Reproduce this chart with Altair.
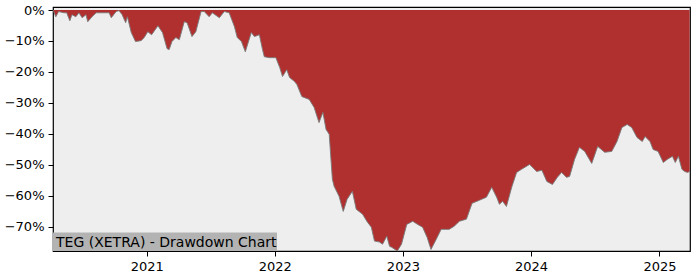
import altair as alt
import pandas as pd

dates = [
    "2020-04-09", "2020-04-11", "2020-04-17", "2020-04-25", "2020-05-10", "2020-05-18",
    "2020-05-27", "2020-06-02", "2020-06-13", "2020-06-22", "2020-07-01", "2020-07-12",
    "2020-07-17", "2020-07-29", "2020-08-10", "2020-08-27", "2020-09-16", "2020-09-22",
    "2020-10-06", "2020-10-14", "2020-10-23", "2020-11-02", "2020-11-07", "2020-11-18",
    "2020-11-30", "2020-12-16", "2020-12-25",
    "2021-01-04", "2021-01-15", "2021-02-02", "2021-02-15", "2021-02-28", "2021-03-06",
    "2021-03-14", "2021-03-25", "2021-04-04", "2021-04-18", "2021-04-26", "2021-05-10",
    "2021-05-21", "2021-06-05", "2021-06-14", "2021-06-28", "2021-07-07", "2021-07-27",
    "2021-08-10", "2021-08-24", "2021-09-08", "2021-09-16", "2021-09-28", "2021-10-09",
    "2021-10-26", "2021-11-04", "2021-11-18", "2021-11-27", "2021-12-02", "2021-12-16",
    "2022-01-04", "2022-01-15", "2022-01-23", "2022-02-04", "2022-02-12", "2022-02-26",
    "2022-03-05", "2022-03-19", "2022-04-09", "2022-04-23", "2022-05-07", "2022-05-18",
    "2022-05-27", "2022-06-05", "2022-06-14", "2022-06-19", "2022-07-03", "2022-07-15",
    "2022-07-26", "2022-08-10", "2022-08-21", "2022-09-08", "2022-09-22", "2022-10-03",
    "2022-10-12", "2022-10-26", "2022-11-04", "2022-11-16", "2022-11-24", "2022-11-30",
    "2022-12-16", "2022-12-28",
    "2023-01-12", "2023-01-29", "2023-02-12", "2023-02-26", "2023-03-11", "2023-03-22",
    "2023-04-06", "2023-04-20", "2023-05-13", "2023-05-27", "2023-06-11", "2023-07-01",
    "2023-07-17", "2023-08-07", "2023-08-27", "2023-09-11", "2023-09-25", "2023-10-03",
    "2023-10-12", "2023-10-23", "2023-11-07", "2023-11-21", "2023-12-05", "2023-12-28",
    "2024-01-17", "2024-02-01", "2024-02-15", "2024-03-02", "2024-03-16", "2024-03-28",
    "2024-04-11", "2024-04-20", "2024-05-04", "2024-05-18", "2024-06-02", "2024-06-22",
    "2024-07-09", "2024-07-29", "2024-08-18", "2024-09-02", "2024-09-16", "2024-10-01",
    "2024-10-14", "2024-10-29", "2024-11-13", "2024-11-21", "2024-12-05", "2024-12-14",
    "2024-12-28",
    "2025-01-12", "2025-01-23", "2025-02-07", "2025-02-15", "2025-02-24", "2025-03-06",
    "2025-03-14", "2025-03-22", "2025-03-28",
]

drawdown_pct = [
    0.0, -0.5, -2.2, -0.5, -0.9, -0.9,
    -3.5, -1.5, -2.2, -0.9, -2.5, -1.5,
    -3.8, -2.2, -0.9, -0.9, -0.9, -2.5,
    -0.5, -0.2, -1.5, -4.1, -2.2, -7.3,
    -10.2, -9.9, -8.9,
    -7.0, -8.0, -5.1, -7.3, -12.5, -12.8,
    -10.2, -8.9, -9.6, -3.8, -4.1, -8.6,
    -7.0, -0.5, -0.5, -2.2, -0.9, -2.5,
    -0.5, -0.9, -5.4, -8.9, -10.2, -13.5,
    -7.3, -8.6, -8.0, -12.8, -15.1, -15.4,
    -15.4, -18.6, -21.5, -19.3, -21.8, -23.1,
    -24.1, -28.0, -28.9, -31.5, -36.4, -33.1,
    -38.6, -40.2, -54.7, -57.0, -60.2, -65.1,
    -61.2, -58.6, -64.4, -66.0, -68.6, -70.2,
    -74.7, -75.0, -75.7, -73.1, -76.4, -76.7,
    -77.9, -75.7,
    -69.3, -68.3, -69.3, -70.2, -73.5, -77.4,
    -74.1, -70.9, -70.9, -69.9, -68.3, -67.6,
    -62.5, -61.5, -60.5, -57.3, -60.5, -62.8,
    -61.8, -63.5, -57.3, -52.5, -51.5, -49.9,
    -52.2, -51.8, -55.4, -56.4, -54.1, -52.5,
    -54.1, -53.8, -48.3, -44.4, -45.7, -49.6,
    -44.1, -46.0, -45.7, -42.5, -38.0, -37.0,
    -38.0, -41.2, -42.5, -40.9, -42.5, -45.1,
    -45.7,
    -49.3, -48.3, -47.3, -49.3, -47.3, -51.5,
    -52.2, -52.5, -52.2,
]

label_text = "TEG (XETRA) - Drawdown Chart"
year_ticks = [2021, 2022, 2023, 2024, 2025]
pct_ticks = [0.0, -0.1, -0.2, -0.3, -0.4, -0.5, -0.6, -0.7]

df = pd.DataFrame({"date": dates, "dd": [v / 100 for v in drawdown_pct]})

x_enc = alt.X(
    "date:T",
    title=None,
    scale=alt.Scale(domain=[alt.DateTime(year=2020, month=4, date=9),
                            alt.DateTime(year=2025, month=3, date=29)]),
    axis=alt.Axis(
        values=[alt.DateTime(year=y, month=1, date=1) for y in year_ticks],
        format="%Y", grid=False, domain=False, tickColor="black", tickSize=5,
        labelPadding=4, labelFontSize=13, labelColor="black", labelFont="DejaVu Sans",
        labelOverlap=False,
    ),
)
y_enc = alt.Y(
    "dd:Q",
    title=None,
    scale=alt.Scale(domain=[-0.779, 0.0097], nice=False, zero=False),
    axis=alt.Axis(
        values=pct_ticks, format=".0%", grid=False, domain=False, tickColor="black",
        tickSize=5, labelPadding=4, labelFontSize=13, labelColor="black",
        labelFont="DejaVu Sans", labelOverlap=False, labelFlush=False,
    ),
)

base = alt.Chart(df)

area = base.mark_area(color="#b03030", interpolate="linear").encode(
    x=x_enc, y=y_enc, y2=alt.value(0)
)
line = base.mark_line(color="#7a7a7a", strokeWidth=1, opacity=0.9).encode(
    x=x_enc, y=y_enc
)

box = alt.Chart(pd.DataFrame({"t": [label_text]})).mark_rect(
    color="#b3b3b3"
).encode(
    x=alt.value(0), x2=alt.value(224), y=alt.value(225.5), y2=alt.value(244)
)
label = alt.Chart(pd.DataFrame({"t": [label_text]})).mark_text(
    align="left", baseline="alphabetic", fontSize=14, font="DejaVu Sans", color="black"
).encode(
    text="t:N", x=alt.value(3), y=alt.value(240)
)

chart = alt.layer(area, line, box, label).properties(
    width=637, height=244,
    background="white",
    autosize=alt.AutoSizeParams(type="none"),
    padding={"left": 53, "top": 7, "right": 10, "bottom": 29},
).configure_view(
    fill="#eeeeee", stroke="black", strokeWidth=1.2
).configure_axis(
    labelOverlap=False
)

chart.save("out.html", embed_options={"renderer": "svg", "actions": False})
